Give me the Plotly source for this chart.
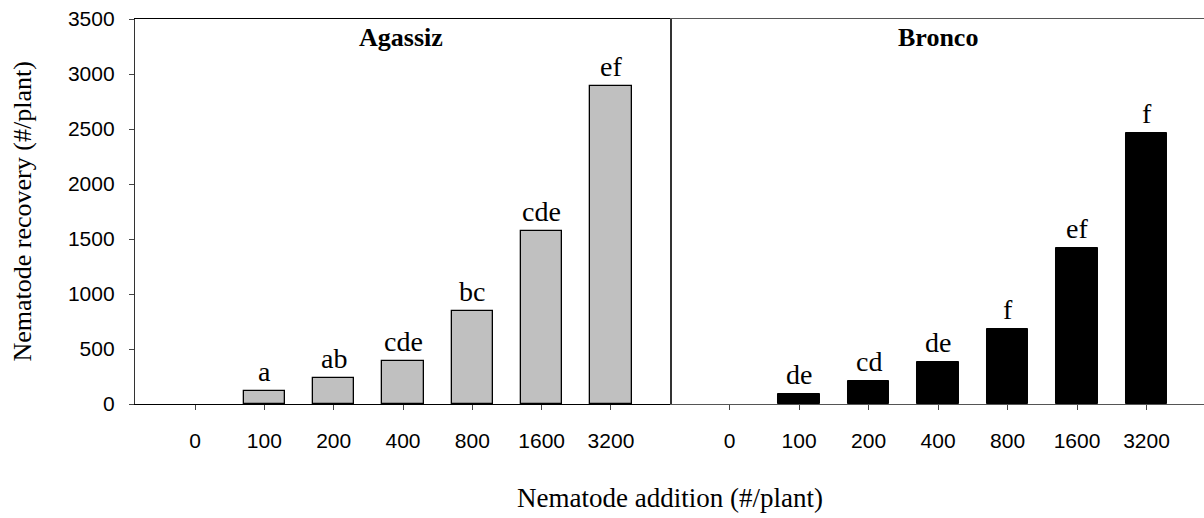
import plotly.graph_objects as go

categories = ["0", "100", "200", "400", "800", "1600", "3200"]
agassiz_values = [0, 120, 235, 390, 850, 1570, 2890]
bronco_values = [0, 90, 205, 380, 680, 1420, 2460]
agassiz_letters = ["", "a", "ab", "cde", "bc", "cde", "ef"]
bronco_letters = ["", "de", "cd", "de", "f", "ef", "f"]
panel_titles = ["Agassiz", "Bronco"]
y_ticks = [0, 500, 1000, 1500, 2000, 2500, 3000, 3500]

idx = list(range(len(categories)))
SERIF = "Times New Roman, Liberation Serif, serif"
SANS = "Arial, Liberation Sans, sans-serif"

fig = go.Figure()
fig.add_trace(go.Bar(x=idx, y=agassiz_values, width=0.6, xaxis="x", yaxis="y",
                     marker=dict(color="#c0c0c0",
                                 line=dict(color="black",
                                           width=[1.3 if v > 0 else 0 for v in agassiz_values])),
                     showlegend=False, hoverinfo="skip"))
fig.add_trace(go.Bar(x=idx, y=bronco_values, width=0.6, xaxis="x2", yaxis="y2",
                     marker=dict(color="black",
                                 line=dict(color="black",
                                           width=[1 if v > 0 else 0 for v in bronco_values])),
                     showlegend=False, hoverinfo="skip"))

annotations = []
for xr, yr, vals, letters in [("x", "y", agassiz_values, agassiz_letters),
                              ("x2", "y2", bronco_values, bronco_letters)]:
    for i, (v, t) in enumerate(zip(vals, letters)):
        if t:
            annotations.append(dict(x=i, y=v, xref=xr, yref=yr, text=t, showarrow=False,
                                    xanchor="center", yanchor="bottom", yshift=2,
                                    font=dict(family=SERIF, size=28, color="black")))

annotations.append(dict(x=0.249, y=0.951, xref="paper", yref="paper",
                        text="<b>" + panel_titles[0] + "</b>", showarrow=False,
                        xanchor="center", yanchor="middle",
                        font=dict(family=SERIF, size=26, color="black")))
annotations.append(dict(x=0.751, y=0.951, xref="paper", yref="paper",
                        text="<b>" + panel_titles[1] + "</b>", showarrow=False,
                        xanchor="center", yanchor="middle",
                        font=dict(family=SERIF, size=26, color="black")))
annotations.append(dict(x=0.5, y=-0.244, xref="paper", yref="paper",
                        text="Nematode addition (#/plant)", showarrow=False,
                        xanchor="center", yanchor="middle",
                        font=dict(family=SERIF, size=27, color="black")))
annotations.append(dict(x=-0.1057, y=0.5, xref="paper", yref="paper",
                        text="Nematode recovery (#/plant)", showarrow=False, textangle=-90,
                        xanchor="center", yanchor="middle",
                        font=dict(family=SERIF, size=26, color="black")))

split = 0.5014
xcommon = dict(tickmode="array", tickvals=idx, ticktext=categories, ticks="outside",
               ticklen=5, tickcolor="#444", tickwidth=1, showgrid=False, zeroline=False,
               showline=True, mirror=True, ticklabelstandoff=13,
               tickfont=dict(family=SANS, size=21, color="black"))

fig.update_layout(
    width=1204, height=518,
    margin=dict(l=135, r=0, t=19, b=114),
    paper_bgcolor="white", plot_bgcolor="white",
    bargap=0,
    xaxis=dict(domain=[0, split], range=[-0.866, 6.866], anchor="y",
               linecolor="black", linewidth=1.3, **xcommon),
    xaxis2=dict(domain=[split, 1], range=[-0.843, 6.827], anchor="y2",
                linecolor="#555", linewidth=1.3, **xcommon),
    yaxis=dict(domain=[0, 1], range=[0, 3500], tickmode="array", tickvals=y_ticks,
               ticks="outside", ticklen=5, tickcolor="#444", showgrid=False, zeroline=False,
               showline=True, mirror=True, linecolor="#333", linewidth=1.3,
               ticklabelstandoff=10,
               tickfont=dict(family=SANS, size=21, color="black"), anchor="x"),
    yaxis2=dict(domain=[0, 1], range=[0, 3500], matches="y", anchor="x2",
                showticklabels=False, ticks="", showgrid=False, zeroline=False,
                showline=True, linecolor="#333", linewidth=1.3),
    annotations=annotations,
)

fig.write_html("out.html", config={"displayModeBar": False},
               post_script="document.body.style.margin='0px';document.body.style.padding='0px';")
